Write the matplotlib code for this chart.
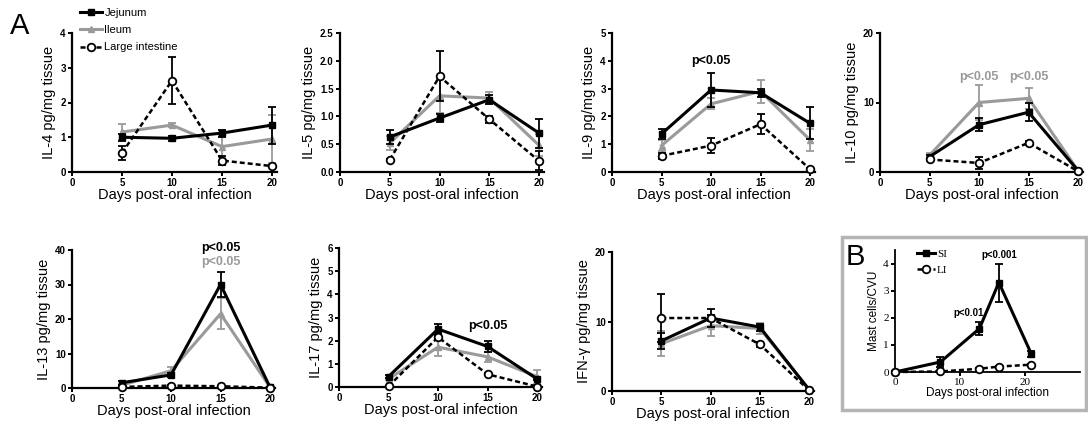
"""
Cytokine time courses after oral infection (panel A) and mast cell counts (panel B).

    python3 plot.py     # writes out.png
"""

from __future__ import annotations

import matplotlib

matplotlib.use("Agg")
import matplotlib.pyplot as plt
from matplotlib.lines import Line2D
from matplotlib.patches import Rectangle

OUTPUT = "out.png"
W, H = 1088, 424

DAYS = [5, 10, 15, 20]

# --- panel A data: mean and error per tissue ---
IL4_JEJ = [1.00, 0.97, 1.12, 1.35]
IL4_JEJ_ERR = [0.10, 0.08, 0.10, 0.53]
IL4_ILE = [1.15, 1.35, 0.73, 0.95]
IL4_ILE_ERR = [0.22, 0.05, 0.30, 0.70]
IL4_LI = [0.55, 2.63, 0.33, 0.17]
IL4_LI_ERR = [0.20, 0.68, 0.12, 0.03]

IL5_JEJ = [0.63, 0.97, 1.30, 0.70]
IL5_JEJ_ERR = [0.12, 0.07, 0.08, 0.26]
IL5_ILE = [0.52, 1.37, 1.33, 0.48]
IL5_ILE_ERR = [0.12, 0.30, 0.10, 0.20]
IL5_LI = [0.22, 1.72, 0.95, 0.20]
IL5_LI_ERR = [0.02, 0.45, 0.06, 0.17]

IL9_JEJ = [1.37, 2.95, 2.85, 1.75]
IL9_JEJ_ERR = [0.17, 0.62, 0.15, 0.58]
IL9_ILE = [0.95, 2.45, 2.90, 1.15]
IL9_ILE_ERR = [0.20, 0.20, 0.40, 0.40]
IL9_LI = [0.58, 0.95, 1.72, 0.10]
IL9_LI_ERR = [0.10, 0.28, 0.35, 0.03]

IL10_JEJ = [2.2, 6.8, 8.6, 0.2]
IL10_JEJ_ERR = [0.3, 0.9, 1.3, 0.1]
IL10_ILE = [2.4, 10.0, 10.6, 0.2]
IL10_ILE_ERR = [0.3, 2.5, 1.5, 0.1]
IL10_LI = [1.8, 1.3, 4.2, 0.1]
IL10_LI_ERR = [0.2, 0.8, 0.3, 0.05]

IL13_JEJ = [1.5, 3.8, 30.0, 0.2]
IL13_JEJ_ERR = [0.5, 0.5, 3.5, 0.1]
IL13_ILE = [0.8, 5.0, 21.5, 0.2]
IL13_ILE_ERR = [0.3, 1.0, 4.5, 0.1]
IL13_LI = [0.3, 0.7, 0.5, 0.1]
IL13_LI_ERR = [0.1, 0.2, 0.2, 0.05]

IL17_JEJ = [0.45, 2.50, 1.75, 0.35]
IL17_JEJ_ERR = [0.05, 0.20, 0.25, 0.05]
IL17_ILE = [0.35, 1.72, 1.30, 0.45]
IL17_ILE_ERR = [0.05, 0.40, 0.20, 0.30]
IL17_LI = [0.03, 2.15, 0.55, 0.02]
IL17_LI_ERR = [0.02, 0.10, 0.05, 0.02]

IFNG_JEJ = [7.2, 10.5, 9.2, 0.2]
IFNG_JEJ_ERR = [1.1, 1.3, 0.5, 0.1]
IFNG_ILE = [6.8, 9.4, 9.0, 0.2]
IFNG_ILE_ERR = [1.8, 1.5, 0.8, 0.1]
IFNG_LI = [10.5, 10.5, 6.7, 0.1]
IFNG_LI_ERR = [3.5, 0.4, 0.4, 0.05]

# --- panel B data ---
MAST_DAYS = [0, 7, 13, 16, 21]
MAST_SI = [0.0, 0.37, 1.60, 3.30, 0.67]
MAST_SI_ERR = [0.02, 0.20, 0.25, 0.70, 0.10]
MAST_LI = [0.0, 0.02, 0.12, 0.20, 0.27]
MAST_LI_ERR = [0.0, 0.01, 0.02, 0.02, 0.03]

GRAY = "#9a9a9a"
SANS = ["Liberation Sans", "DejaVu Sans"]
SERIF = ["Liberation Serif", "DejaVu Serif"]

STYLES = {
    "jej": dict(color="black", marker="s", ms=5, lw=2.2, ls="-", mfc="black", mec="black"),
    "ile": dict(color=GRAY, marker="^", ms=4.5, lw=2.2, ls="-", mfc=GRAY, mec=GRAY),
    "li": dict(color="black", marker="o", ms=5.5, lw=1.8, ls=(0, (2, 1.2)), mfc="white",
               mec="black", mew=1.3),
}

plt.rcParams["font.family"] = SANS


def rect(x0: float, x1: float, y0: float, y1: float) -> list[float]:
    """Axes rect from pixel box (x0 left, x1 right, y0 bottom, y1 top)."""
    return [x0 / W, 1 - y0 / H, (x1 - x0) / W, (y0 - y1) / H]


def style_axes(ax, ymax, yticks, xlim, xticks, tick_family=SANS, tick_weight="bold"):
    for side in ("top", "right"):
        ax.spines[side].set_visible(False)
    for side in ("left", "bottom"):
        ax.spines[side].set_linewidth(1.6)
    ax.set_xlim(*xlim)
    ax.set_ylim(0, ymax)
    ax.set_xticks(xticks)
    ax.set_yticks(yticks)
    ax.tick_params(width=1.4, length=3, pad=1.5, labelsize=7)
    for lab in ax.get_xticklabels() + ax.get_yticklabels():
        lab.set_fontweight(tick_weight)
        lab.set_family(tick_family)


def series(ax, x, y, err, kind):
    cont = ax.errorbar(x, y, yerr=err, capsize=3, elinewidth=1.3, capthick=1.3,
                       clip_on=False, zorder=3 if kind != "ile" else 2, **STYLES[kind])
    for art in cont.lines[1] + cont.lines[2]:
        art.set_clip_on(False)
    return cont


def proxy(kind):
    return Line2D([], [], **STYLES[kind])


def cytokine_panel(ax, name, jej, jej_err, ile, ile_err, li, li_err, ymax, yticks, fmt=None):
    series(ax, DAYS, ile, ile_err, "ile")
    series(ax, DAYS, jej, jej_err, "jej")
    series(ax, DAYS, li, li_err, "li")
    style_axes(ax, ymax, yticks, (0, 20.5), [0, 5, 10, 15, 20])
    if fmt:
        ax.set_yticklabels([fmt.format(t) for t in yticks], fontweight="bold")
    ax.set_ylabel(f"{name} pg/mg tissue", fontsize=10.5, labelpad=3)
    ax.set_xlabel("Days post-oral infection", fontsize=10.5, labelpad=0)


def main() -> None:
    fig = plt.figure(figsize=(W / 100, H / 100), dpi=100)

    # top row
    ax1 = fig.add_axes(rect(72, 277, 172, 33))
    cytokine_panel(ax1, "IL-4", IL4_JEJ, IL4_JEJ_ERR, IL4_ILE, IL4_ILE_ERR, IL4_LI, IL4_LI_ERR,
                   4, [0, 1, 2, 3, 4])
    ax2 = fig.add_axes(rect(340, 544, 172, 33))
    cytokine_panel(ax2, "IL-5", IL5_JEJ, IL5_JEJ_ERR, IL5_ILE, IL5_ILE_ERR, IL5_LI, IL5_LI_ERR,
                   2.5, [0, 0.5, 1.0, 1.5, 2.0, 2.5], fmt="{:.1f}")
    ax3 = fig.add_axes(rect(612, 815, 172, 33))
    cytokine_panel(ax3, "IL-9", IL9_JEJ, IL9_JEJ_ERR, IL9_ILE, IL9_ILE_ERR, IL9_LI, IL9_LI_ERR,
                   5, [0, 1, 2, 3, 4, 5])
    ax3.text(10, 4.0, "p<0.05", ha="center", va="center", fontsize=9, fontweight="bold")
    ax4 = fig.add_axes(rect(880, 1083, 172, 33))
    cytokine_panel(ax4, "IL-10", IL10_JEJ, IL10_JEJ_ERR, IL10_ILE, IL10_ILE_ERR, IL10_LI,
                   IL10_LI_ERR, 20, [0, 10, 20])
    for d in (10, 15):
        ax4.text(d, 13.7, "p<0.05", ha="center", va="center", fontsize=9, fontweight="bold",
                 color=GRAY)

    # bottom row
    ax5 = fig.add_axes(rect(72, 275, 388, 250))
    cytokine_panel(ax5, "IL-13", IL13_JEJ, IL13_JEJ_ERR, IL13_ILE, IL13_ILE_ERR, IL13_LI,
                   IL13_LI_ERR, 40, [0, 10, 20, 30, 40])
    ax5.text(15, 40.6, "p<0.05", ha="center", va="center", fontsize=9, fontweight="bold")
    ax5.text(15, 36.6, "p<0.05", ha="center", va="center", fontsize=9, fontweight="bold",
             color=GRAY)
    ax6 = fig.add_axes(rect(339, 542, 387, 248))
    cytokine_panel(ax6, "IL-17", IL17_JEJ, IL17_JEJ_ERR, IL17_ILE, IL17_ILE_ERR, IL17_LI,
                   IL17_LI_ERR, 6, [0, 1, 2, 3, 4, 5, 6])
    ax6.text(15, 2.65, "p<0.05", ha="center", va="center", fontsize=9, fontweight="bold")
    ax7 = fig.add_axes(rect(612, 814, 391, 252))
    cytokine_panel(ax7, "IFN-γ", IFNG_JEJ, IFNG_JEJ_ERR, IFNG_ILE, IFNG_ILE_ERR, IFNG_LI,
                   IFNG_LI_ERR, 20, [0, 10, 20])

    # legend for panel A (line + marker only, no error bars)
    fig.legend([proxy("jej"), proxy("ile"), proxy("li")],
               ["Jejunum", "Ileum", "Large intestine"],
               loc="upper left", bbox_to_anchor=(80 / W, 1 - 8 / H), frameon=False,
               fontsize=8, handlelength=2.0, handletextpad=0.2, labelspacing=0.65,
               borderpad=0, borderaxespad=0)

    fig.text(10 / W, 1 - 34 / H, "A", fontsize=21)

    # panel B
    fig.patches.append(Rectangle((842 / W, 1 - 410 / H), 244 / W, 173 / H,
                                 transform=fig.transFigure, fill=False,
                                 edgecolor="#b5b5b5", linewidth=2.5))
    axb = fig.add_axes(rect(895, 1080, 372, 250))
    series(axb, MAST_DAYS, MAST_SI, MAST_SI_ERR, "jej")
    series(axb, MAST_DAYS, MAST_LI, MAST_LI_ERR, "li")
    style_axes(axb, 4.5, [0, 1, 2, 3, 4], (0, 28.5), [0, 10, 20],
               tick_family=SERIF, tick_weight="normal")
    axb.tick_params(labelsize=8)
    for side in ("left", "bottom"):
        axb.spines[side].set_linewidth(1.3)
    axb.set_ylabel("Mast cells/CVU", fontsize=8.5, labelpad=2)
    axb.set_xlabel("Days post-oral infection", fontsize=8.5, labelpad=0)
    axb.text(11.3, 2.17, "p<0.01", ha="center", va="center", fontsize=7, fontweight="bold")
    axb.text(16.1, 4.32, "p<0.001", ha="center", va="center", fontsize=7, fontweight="bold")
    fig.legend([proxy("jej"), proxy("li")], ["SI", "LI"],
               loc="upper left", bbox_to_anchor=(917 / W, 1 - 249 / H), frameon=False,
               prop={"family": SERIF, "size": 8}, handlelength=1.6, handletextpad=0.2,
               labelspacing=0.55, borderpad=0, borderaxespad=0)
    fig.text(846 / W, 1 - 265 / H, "B", fontsize=21)

    fig.savefig(OUTPUT, dpi=100)
    print(f"Wrote {OUTPUT}")


if __name__ == "__main__":
    main()
